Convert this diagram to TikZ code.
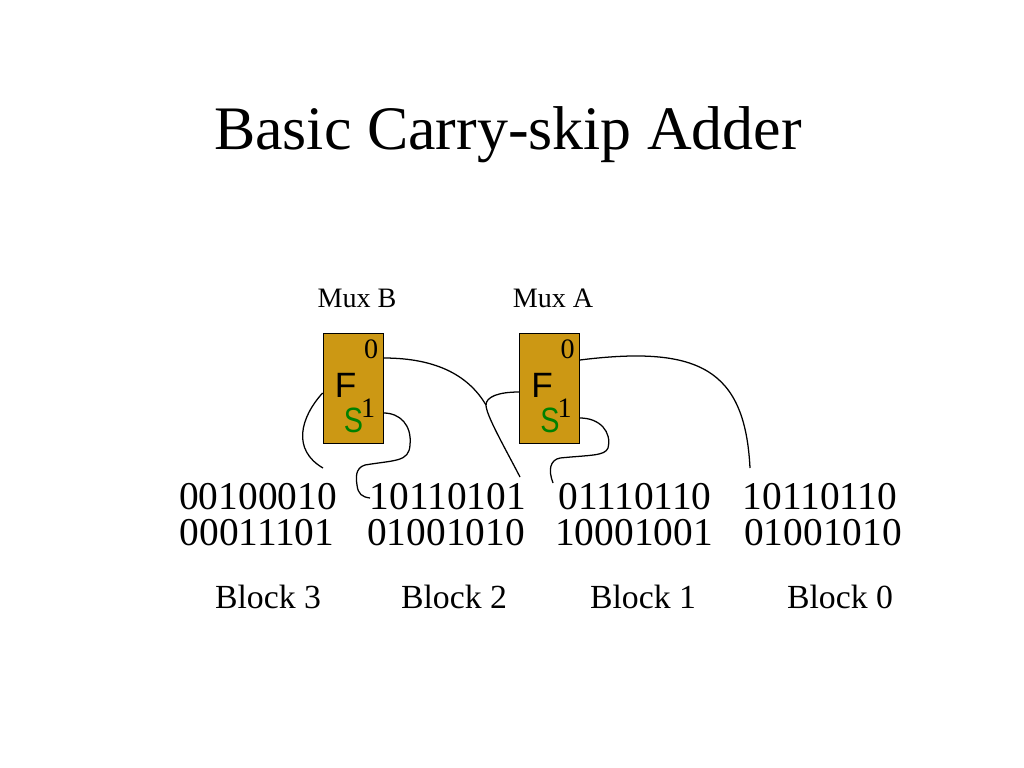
\documentclass[tikz,border=0pt]{standalone}
\usepackage{fontspec}
\setmainfont{Liberation Serif}
\setsansfont{Liberation Sans}
\newfontfamily\narrowsans{Liberation Sans}[FakeStretch=0.82]
\usepackage{tikz}
\usetikzlibrary{positioning}
\definecolor{muxgold}{RGB}{204,152,20}
\definecolor{selgreen}{RGB}{0,128,0}
\tikzstyle{mux} = [rectangle, minimum width=1.5cm, minimum height=2.75cm, draw=black, line width=0.6pt, fill=muxgold]
\tikzstyle{wire} = [line width=0.9pt]
\tikzstyle{operand} = [inner sep=0pt, anchor=base, font=\fontsize{28}{30}\selectfont]
\tikzstyle{blocklabel} = [inner sep=0pt, anchor=base, font=\fontsize{24}{26}\selectfont]
\tikzstyle{muxlabel} = [inner sep=0pt, anchor=base, font=\fontsize{20}{22}\selectfont]
\tikzstyle{port} = [inner sep=0pt, anchor=base east, font=\fontsize{20}{22}\selectfont]
\tikzstyle{sig} = [inner sep=0pt, anchor=base west, font=\sffamily\fontsize{25}{27}\selectfont]
\tikzstyle{sel} = [inner sep=0pt, anchor=base west, text=selgreen, font=\narrowsans\fontsize{25}{27}\selectfont]

\begin{document}
\begin{tikzpicture}[x=0.025cm, y=-0.025cm]
        \useasboundingbox[fill=white] (0,0) rectangle (1024,768);
        \node (title) [inner sep=0pt, anchor=base, font=\fontsize{44}{50}\selectfont] at (508,150) {Basic Carry-skip Adder};

        % the two skip multiplexers
        \node (mux_b) [mux] at (353,388) {};
        \node (mux_a) [mux] at (549.5,388) {};
        \node (lbl_mux_b) [muxlabel] at (357,307) {Mux B};
        \node (lbl_mux_a) [muxlabel] at (553,307) {Mux A};
        \node (zero_b) [port] at ([shift={(-5,26)}]mux_b.north east) {0};
        \node (one_b) [port] at ([shift={(-8,85)}]mux_b.north east) {1};
        \node (f_b) [sig] at ([shift={(12,65)}]mux_b.north west) {F};
        \node (s_b) [sel] at ([shift={(21,100)}]mux_b.north west) {S};
        \node (zero_a) [port] at ([shift={(-5,26)}]mux_a.north east) {0};
        \node (one_a) [port] at ([shift={(-8,85)}]mux_a.north east) {1};
        \node (f_a) [sig] at ([shift={(12,65)}]mux_a.north west) {F};
        \node (s_a) [sel] at ([shift={(21,100)}]mux_a.north west) {S};

        % operands of each block
        \node (a3) [operand] at (258,509) {00100010};
        \node (b3) [operand] at (257,545) {00011101};
        \node (a2) [operand] at (448,509) {10110101};
        \node (b2) [operand] at (446,545) {01001010};
        \node (a1) [operand] at (635,509) {01110110};
        \node (b1) [operand] at (634,545) {10001001};
        \node (a0) [operand] at (820,509) {10110110};
        \node (b0) [operand] at (823,545) {01001010};
        \node (blk3) [blocklabel] at (268,608) {Block 3};
        \node (blk2) [blocklabel] at (454,608) {Block 2};
        \node (blk1) [blocklabel] at (643,608) {Block 1};
        \node (blk0) [blocklabel] at (840,608) {Block 0};

        \coordinate (end_3) at (323,468);
        \coordinate (end_2s) at (370,498);
        \coordinate (end_2c) at (520,477);
        \coordinate (end_1s) at (553,483);
        \coordinate (end_0c) at (750,468);
        \coordinate (join) at (486,405);

        \draw [wire] ([shift={(0,5)}]mux_b.west) .. controls (300,418) and (292,450) .. (end_3);
        \draw [wire] ([shift={(0,25)}]mux_b.east) .. controls (400,413) and (412,425) .. (410,445)
                .. controls (409,462) and (395,460) .. (365,465)
                .. controls (355,468) and (356,478) .. (357,485)
                .. controls (358,494) and (362,497) .. (end_2s);
        \draw [wire] ([shift={(0,-30)}]mux_b.east) .. controls (440,358) and (470,378) .. (join);
        \draw [wire] ([shift={(0,4)}]mux_a.west) .. controls (498,392) and (486,397) .. (join)
                .. controls (486,415) and (505,448) .. (end_2c);
        \draw [wire] ([shift={(0,30)}]mux_a.east) .. controls (600,418) and (612,432) .. (608,448)
                .. controls (605,456) and (590,455) .. (560,458)
                .. controls (550,460) and (548,470) .. (end_1s);
        \draw [wire] ([shift={(0,-28)}]mux_a.east) .. controls (700,345) and (745,370) .. (end_0c);

        \end{tikzpicture}
\end{document}
